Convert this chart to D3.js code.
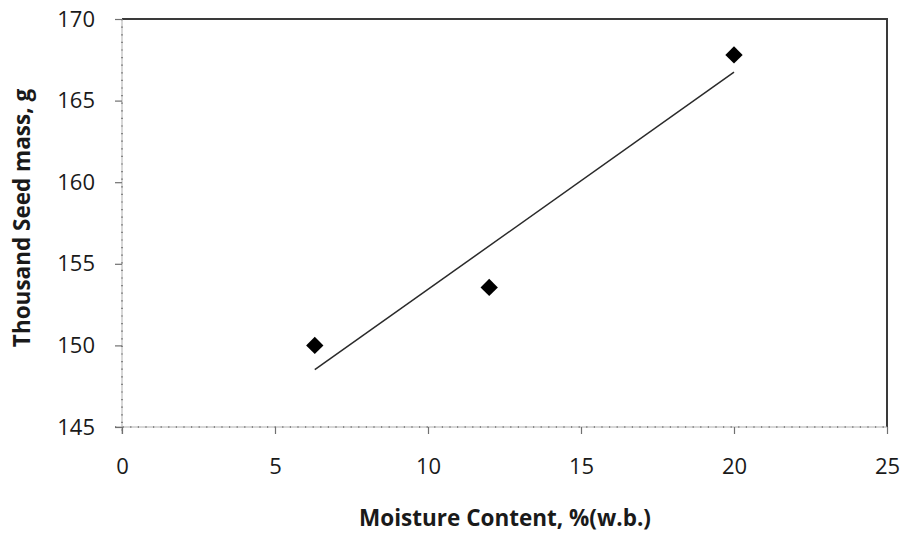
<!DOCTYPE html>
<html>
<head>
<meta charset="utf-8">
<script src="https://cdn.jsdelivr.net/npm/d3@7"></script>
<style>
  html, body { margin: 0; padding: 0; background: #fff; }
  svg { display: block; }
  text { font-family: "Open Sans", "Liberation Sans", sans-serif; fill: #1a1a1a; }
</style>
</head>
<body>
<svg id="chart" width="903" height="534"></svg>
<script>
// Moisture content (% w.b.) and thousand seed mass (g)
const moisture = [6.3, 12, 20];
const seedMass = [150.0, 153.55, 167.8];
const xTicks = [0, 5, 10, 15, 20, 25];
const yTicks = [145, 150, 155, 160, 165, 170];
const xTitle = "Moisture Content, %(w.b.)";
const yTitle = "Thousand Seed mass, g";

const svg = d3.select("#chart");
const plot = { left: 122, right: 887, top: 19, bottom: 427 };

const x = d3.scaleLinear().domain([0, 25]).range([plot.left, plot.right]);
const y = d3.scaleLinear().domain([145, 170]).range([plot.bottom, plot.top]);

// top and right frame
svg.append("path")
  .attr("d", `M${plot.left},${plot.top}H${plot.right}V${plot.bottom}`)
  .attr("fill", "none")
  .attr("stroke", "#3a3a3a")
  .attr("stroke-width", 2);

// left and bottom axes: light line with fine dotted marks
function dottedAxis(x1, y1, x2, y2) {
  svg.append("line").attr("x1", x1).attr("y1", y1).attr("x2", x2).attr("y2", y2)
    .attr("stroke", "#b0b0b0").attr("stroke-width", 1);
  svg.append("line").attr("x1", x1).attr("y1", y1).attr("x2", x2).attr("y2", y2)
    .attr("stroke", "#707070").attr("stroke-width", 1.6)
    .attr("stroke-dasharray", "1.2,6.4");
}
dottedAxis(plot.left, plot.top, plot.left, plot.bottom + 7);
dottedAxis(plot.left - 7, plot.bottom, plot.right, plot.bottom);

// y axis
const yAxis = d3.axisLeft(y).tickValues(yTicks).tickSize(7).tickPadding(20)
  .tickFormat(d3.format("d"));
const gy = svg.append("g").attr("transform", `translate(${plot.left},0)`).call(yAxis);
gy.select(".domain").remove();
gy.selectAll(".tick line").attr("stroke", "#707070").attr("stroke-width", 1.2);
gy.selectAll(".tick text").attr("font-size", 22).attr("fill", "#1a1a1a")
  .attr("font-family", "'Open Sans', sans-serif");

// x axis
const xAxis = d3.axisBottom(x).tickValues(xTicks).tickSize(7).tickPadding(24)
  .tickFormat(d3.format("d"));
const gx = svg.append("g").attr("transform", `translate(0,${plot.bottom})`).call(xAxis);
gx.select(".domain").remove();
gx.selectAll(".tick line").attr("stroke", "#707070").attr("stroke-width", 1.2);
gx.selectAll(".tick text").attr("font-size", 22).attr("fill", "#1a1a1a")
  .attr("font-family", "'Open Sans', sans-serif");

// linear least-squares trend line over the measured range
const mx = d3.mean(moisture), my = d3.mean(seedMass);
const sxy = d3.sum(moisture, (v, i) => (v - mx) * (seedMass[i] - my));
const sxx = d3.sum(moisture, v => (v - mx) * (v - mx));
const slope = sxy / sxx, intercept = my - slope * mx;
const [xMin, xMax] = d3.extent(moisture);
svg.append("line")
  .attr("x1", x(xMin)).attr("y1", y(intercept + slope * xMin))
  .attr("x2", x(xMax)).attr("y2", y(intercept + slope * xMax))
  .attr("stroke", "#2a2a2a").attr("stroke-width", 1.5);

// data markers (diamonds)
svg.append("g").selectAll("path")
  .data(moisture.map((m, i) => [m, seedMass[i]]))
  .join("path")
  .attr("d", d3.symbol().type(d3.symbolSquare).size(150))
  .attr("transform", d => `translate(${x(d[0])},${y(d[1])}) rotate(45)`)
  .attr("fill", "#000");

// axis titles
svg.append("text")
  .attr("x", 505).attr("y", 526)
  .attr("text-anchor", "middle")
  .attr("font-size", 22.5).attr("font-weight", "bold")
  .attr("fill", "#1a1a1a")
  .text(xTitle);

svg.append("text")
  .attr("transform", `translate(30,218) rotate(-90)`)
  .attr("text-anchor", "middle")
  .attr("font-size", 22.5).attr("font-weight", "bold")
  .attr("fill", "#1a1a1a")
  .text(yTitle);
</script>
</body>
</html>
